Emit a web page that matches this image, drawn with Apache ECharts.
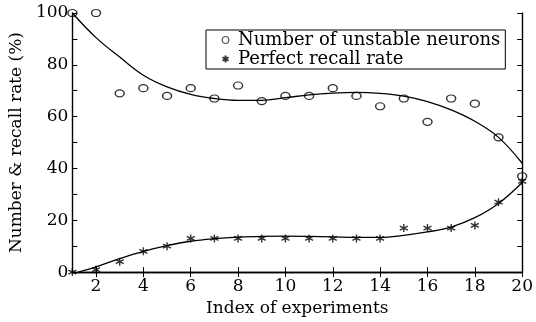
<!DOCTYPE html>
<html><head><meta charset="utf-8">
<script src="https://cdn.jsdelivr.net/npm/echarts@6/dist/echarts.min.js"></script>
<style>html,body{margin:0;padding:0;background:#fff}#c{width:536px;height:322px}</style>
</head><body><div id="c"></div>
<script>
const experiments = [1,2,3,4,5,6,7,8,9,10,11,12,13,14,15,16,17,18,19,20];
const unstableNeurons = [100,100,69,71,68,71,67,72,66,68,68,71,68,64,67,58,67,65,52,37];
const perfectRecall = [0,1,4,8,10,13,13,13,13,13,13,13,13,13,17,17,17,18,27,35];
const neuronFitX = [1,2,3,4,5,6,7,8,9,10,11,12,13,14,15,16,17,18,19,20];
const neuronFitY = [100,90.5,83,76,71.5,68.6,67,66.3,66.3,67.3,68.4,69.1,69.4,69,67.9,65.8,62.6,58.2,52,42];
const recallFitX = [1.25,2,3,4,5,6,7,8,9,10,11,12,13,14,15,16,17,18,19,20];
const recallFitY = [0,2,5.2,8,10.2,11.9,12.9,13.5,13.8,13.9,13.8,13.6,13.4,13.4,14.2,15.5,17.4,21,26.5,34.6];
const xTicks = [2,4,6,8,10,12,14,16,18,20];
const yLabels = [0,20,40,60,80,100];
const legendNames = ['Number of unstable neurons','Perfect recall rate'];
const starPath = 'path://M0,-5L0,5M-4.33,-2.5L4.33,2.5M-4.33,2.5L4.33,-2.5';

const font = 'DejaVu Serif';
const pair = (xs, ys) => xs.map((x,i)=>[x, ys[i]]);
const chart = echarts.init(document.getElementById('c'), null, {renderer:'canvas'});
const axLine = {show:true, lineStyle:{color:'#000', width:1.4}};
chart.setOption({
  animation:false,
  backgroundColor:'#fff',
  grid:{left:71, right:8, top:13, bottom:45, containLabel:false},
  legend:{
    data:[{name:legendNames[0], icon:'circle', itemStyle:{color:'#fff', borderColor:'#000', borderWidth:1}},
          {name:legendNames[1], icon:starPath}],
    orient:'vertical', left:206, top:30,
    borderColor:'#000', borderWidth:1, padding:[1,5,1,14],
    itemWidth:7, itemHeight:7, itemGap:1,
    textStyle:{fontFamily:font, fontSize:18, color:'#000', padding:[0,0,0,4], lineHeight:17}
  },
  xAxis:[{
    type:'value', min:1, max:20, position:'bottom',
    name:'Index of experiments', nameLocation:'middle', nameGap:27,
    nameTextStyle:{fontFamily:font, fontSize:17, color:'#000'},
    axisLine:axLine, splitLine:{show:false},
    axisTick:{show:true, inside:true, length:5, customValues:xTicks, lineStyle:{color:'#000'}},
    axisLabel:{customValues:xTicks, fontFamily:font, fontSize:17, color:'#000', margin:6}
  },{
    type:'value', min:1, max:20, position:'top',
    axisLine:axLine, splitLine:{show:false},
    axisTick:{show:true, inside:true, length:5, customValues:xTicks, lineStyle:{color:'#000'}},
    axisLabel:{show:false}
  }],
  yAxis:[{
    type:'value', min:0, max:100, interval:10, position:'left',
    name:'Number & recall rate (%)', nameLocation:'middle', nameGap:47,
    nameTextStyle:{fontFamily:font, fontSize:17, color:'#000'},
    axisLine:axLine, splitLine:{show:false},
    axisTick:{show:true, inside:true, length:5, lineStyle:{color:'#000'}},
    axisLabel:{fontFamily:font, fontSize:17, color:'#000', margin:4,
      formatter:v=> yLabels.includes(v) ? String(v) : ''}
  },{
    type:'value', min:0, max:100, interval:10, position:'right',
    axisLine:axLine, splitLine:{show:false},
    axisTick:{show:true, inside:true, length:5, lineStyle:{color:'#000'}},
    axisLabel:{show:false}
  }],
  series:[
    {name:'neuronFit', type:'line', data:pair(neuronFitX, neuronFitY), smooth:0.4, showSymbol:false,
     lineStyle:{color:'#000', width:1.3}, itemStyle:{color:'#000'}, z:2},
    {name:'recallFit', type:'line', data:pair(recallFitX, recallFitY), smooth:0.4, showSymbol:false,
     lineStyle:{color:'#000', width:1.3}, itemStyle:{color:'#000'}, z:2},
    {name:legendNames[0], type:'scatter', data:pair(experiments, unstableNeurons),
     symbol:'circle', symbolSize:[9,7], clip:false,
     itemStyle:{color:'rgba(255,255,255,0)', borderColor:'#000', borderWidth:1.3}, z:3},
    {name:legendNames[1], type:'scatter', data:pair(experiments, perfectRecall),
     symbol:starPath, symbolSize:[8,8], clip:false,
     itemStyle:{color:'none', borderColor:'#000', borderWidth:1.4}, z:3}
  ]
});
</script></body></html>
